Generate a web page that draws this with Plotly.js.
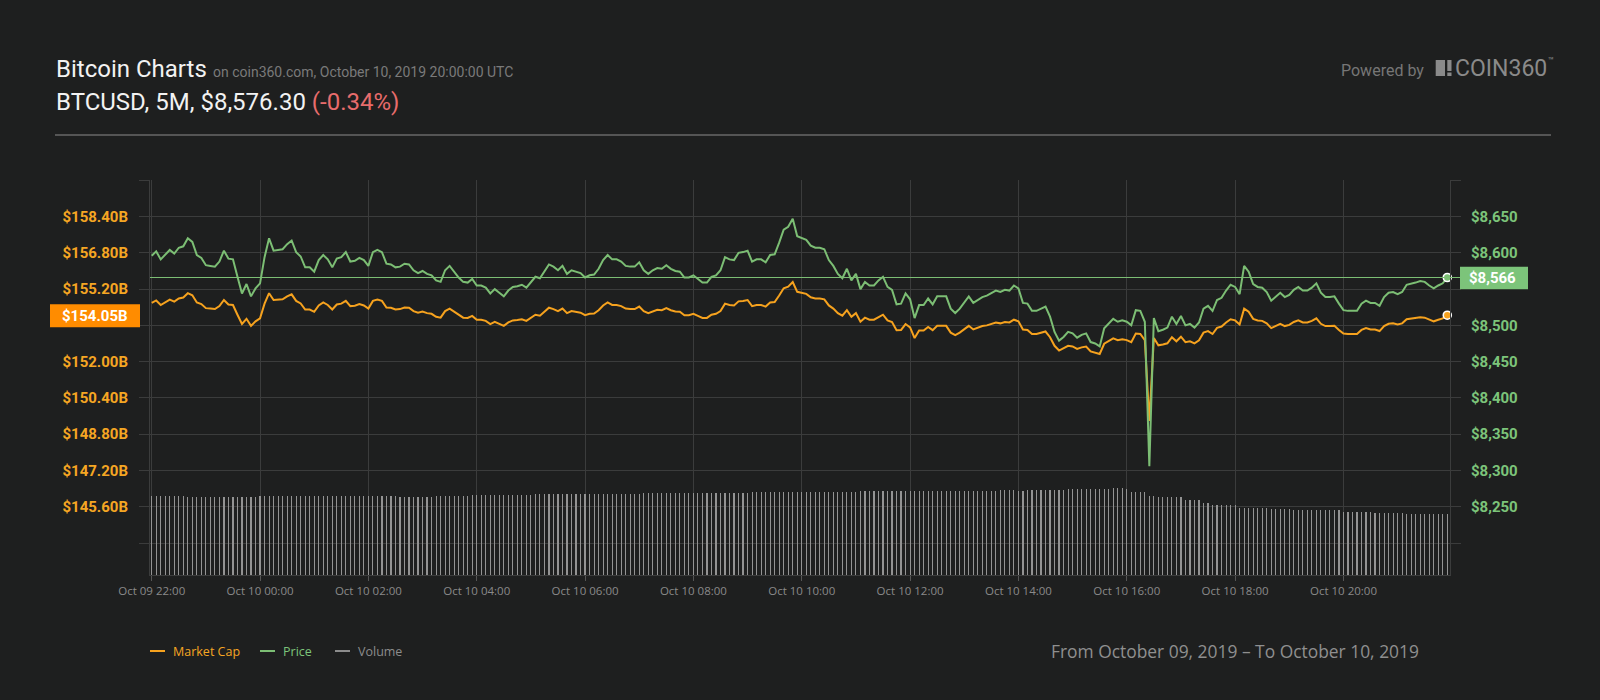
<!DOCTYPE html>
<html>
<head>
<meta charset="utf-8">
<script src="https://cdn.plot.ly/plotly-3.0.1.min.js"></script>
<style>
  html, body { margin:0; padding:0; background:#1e1f1f; }
  #chart { width:1600px; height:700px; }
</style>
</head>
<body>
<div id="chart"></div>
<script>
// ---------------- data ----------------
const START = '2019-10-09 22:00:00';   // first 5-minute sample (UTC)
const STEP_MINUTES = 5;

// BTC price (USD), 5-minute samples
const price = [
8596,8602,8591,8597,8604,8599,8607,8609,8620,8615,
8597,8593,8583,8582,8581,8588,8603,8592,8591,8567,
8544,8557,8540,8551,8558,8594,8620,8603,8604,8605,
8612,8617,8601,8595,8580,8580,8574,8590,8597,8591,
8580,8592,8594,8601,8588,8589,8593,8590,8582,8601,
8604,8601,8585,8584,8580,8581,8585,8584,8576,8572,
8575,8571,8569,8562,8560,8576,8582,8574,8566,8560,
8559,8564,8555,8555,8552,8544,8550,8545,8540,8548,
8553,8554,8556,8552,8560,8567,8565,8574,8584,8581,
8576,8582,8571,8576,8574,8572,8566,8569,8570,8578,
8590,8597,8591,8591,8588,8582,8581,8581,8587,8576,
8571,8576,8579,8578,8583,8578,8575,8574,8566,8566,
8569,8564,8559,8559,8567,8569,8576,8594,8591,8590,
8600,8601,8603,8588,8591,8591,8587,8597,8598,8614,
8632,8636,8647,8623,8621,8618,8610,8607,8607,8605,
8590,8582,8571,8565,8578,8562,8571,8550,8560,8555,
8555,8562,8567,8553,8549,8529,8530,8544,8536,8510,
8528,8528,8537,8529,8540,8540,8540,8523,8517,8523,
8532,8540,8531,8535,8539,8541,8544,8548,8546,8549,
8548,8555,8551,8531,8530,8520,8520,8523,8526,8512,
8491,8479,8484,8491,8489,8483,8487,8489,8477,8475,
8471,8496,8503,8509,8505,8507,8505,8500,8521,8520,
8505,8306,8510,8492,8494,8497,8512,8502,8513,8500,
8502,8497,8504,8523,8527,8520,8535,8538,8548,8556,
8553,8543,8582,8574,8557,8553,8552,8546,8534,8539,
8545,8539,8542,8549,8553,8548,8548,8552,8558,8545,
8539,8539,8540,8530,8521,8520,8520,8520,8530,8534,
8531,8531,8527,8539,8545,8546,8543,8546,8556,8557,
8559,8561,8560,8555,8551,8555,8558,8566
];

// Market cap (billion USD)
const marketCap = [
154.59,154.70,154.50,154.61,154.74,154.65,154.79,154.83,155.02,154.93,
154.61,154.54,154.36,154.34,154.32,154.45,154.72,154.52,154.50,154.07,
153.66,153.89,153.58,153.78,153.91,154.56,155.02,154.72,154.74,154.75,
154.88,154.97,154.68,154.57,154.30,154.30,154.20,154.48,154.61,154.50,
154.30,154.52,154.56,154.68,154.45,154.47,154.54,154.48,154.34,154.68,
154.74,154.68,154.39,154.38,154.30,154.32,154.39,154.38,154.23,154.16,
154.21,154.14,154.11,153.98,153.94,154.23,154.34,154.20,154.05,153.94,
153.93,154.02,153.85,153.85,153.80,153.66,153.76,153.67,153.58,153.73,
153.82,153.84,153.87,153.80,153.94,154.07,154.03,154.20,154.38,154.32,
154.23,154.34,154.14,154.23,154.20,154.16,154.05,154.11,154.12,154.27,
154.48,154.61,154.50,154.50,154.45,154.34,154.32,154.32,154.43,154.23,
154.14,154.23,154.29,154.27,154.36,154.27,154.21,154.20,154.05,154.05,
154.11,154.02,153.93,153.93,154.07,154.11,154.23,154.56,154.50,154.48,
154.66,154.68,154.72,154.45,154.50,154.50,154.43,154.61,154.63,154.92,
155.24,155.31,155.51,155.08,155.04,154.99,154.84,154.79,154.79,154.75,
154.48,154.34,154.14,154.03,154.27,153.98,154.14,153.76,153.94,153.85,
153.85,153.98,154.07,153.82,153.75,153.39,153.40,153.66,153.51,153.04,
153.37,153.37,153.53,153.39,153.58,153.58,153.58,153.28,153.17,153.28,
153.44,153.58,153.42,153.49,153.57,153.60,153.66,153.73,153.69,153.75,
153.73,153.85,153.78,153.42,153.40,153.22,153.22,153.28,153.33,153.08,
152.70,152.49,152.58,152.70,152.67,152.56,152.63,152.67,152.45,152.41,
152.34,152.79,152.92,153.03,152.95,152.99,152.95,152.86,153.24,153.22,
152.95,149.38,153.04,152.72,152.76,152.81,153.08,152.90,153.10,152.86,
152.90,152.81,152.94,153.28,153.35,153.22,153.49,153.55,153.73,153.87,
153.82,153.64,154.34,154.20,153.89,153.82,153.80,153.69,153.48,153.57,
153.67,153.57,153.62,153.75,153.82,153.73,153.73,153.80,153.91,153.67,
153.57,153.57,153.58,153.40,153.24,153.22,153.22,153.22,153.40,153.48,
153.42,153.42,153.35,153.57,153.67,153.69,153.64,153.69,153.87,153.89,
153.93,153.96,153.94,153.85,153.78,153.85,153.91,154.05
];

// 24h volume (billion USD)
const volume = [
17.6,17.6,17.6,17.6,17.6,17.6,17.6,17.6,17.3,17.3,
17.3,17.3,17.3,17.3,17.3,17.3,17.3,17.3,17.3,17.3,
17.3,17.3,17.3,17.3,17.6,17.6,17.6,17.6,17.6,17.6,
17.6,17.6,17.6,17.6,17.6,17.6,17.6,17.6,17.6,17.6,
17.6,17.6,17.6,17.6,17.6,17.6,17.6,17.6,17.6,17.6,
17.6,17.6,17.6,17.6,17.6,17.3,17.3,17.3,17.3,17.3,
17.3,17.3,17.3,17.6,17.6,17.6,17.6,17.6,17.6,17.6,
17.6,17.8,17.8,17.8,17.8,17.8,17.9,17.9,17.9,17.9,
17.9,17.9,17.9,17.9,17.9,18.0,18.0,18.0,18.0,18.0,
18.0,18.0,18.0,18.0,18.0,18.0,18.0,18.0,18.0,18.0,
18.0,18.0,18.0,18.0,18.0,18.0,18.0,18.0,18.0,18.2,
18.2,18.2,18.2,18.2,18.2,18.2,18.2,18.2,18.2,18.2,
18.2,18.2,18.2,18.2,18.2,18.2,18.2,18.2,18.2,18.2,
18.2,18.2,18.2,18.5,18.5,18.5,18.5,18.5,18.5,18.5,
18.5,18.5,18.5,18.5,18.5,18.5,18.5,18.5,18.5,18.5,
18.5,18.5,18.5,18.5,18.5,18.5,18.5,18.7,18.7,18.7,
18.7,18.7,18.7,18.7,18.7,18.7,18.7,18.7,18.7,18.7,
18.7,18.7,18.7,18.7,18.7,18.7,18.7,18.7,18.7,18.7,
18.7,18.7,18.7,18.7,18.7,18.7,18.7,18.7,18.9,18.9,
18.9,18.9,18.7,18.7,18.9,18.9,18.9,18.9,18.9,18.9,
18.9,18.9,18.9,19.2,19.2,19.2,19.2,19.2,19.2,19.2,
19.2,19.2,19.2,19.4,19.4,19.4,19.2,18.6,18.6,18.6,
18.6,17.7,17.7,17.4,17.4,17.4,17.4,17.4,17.4,16.6,
16.6,16.6,16.6,16.0,16.0,15.6,15.6,15.6,15.6,15.6,
15.6,15.0,15.0,15.0,15.0,15.0,15.0,15.0,14.7,14.7,
14.7,14.7,14.7,14.4,14.4,14.4,14.4,14.4,14.4,14.4,
14.4,14.4,14.4,14.4,14.0,14.0,14.0,14.0,14.0,14.0,
14.0,13.9,13.9,13.9,13.9,13.9,13.9,13.9,13.7,13.7,
13.7,13.7,13.7,13.7,13.7,13.7,13.7,13.7
];

// axis ticks
const capTickVals  = [144, 145.6, 147.2, 148.8, 150.4, 152.0, 153.6, 155.2, 156.8, 158.4, 160];
const capTickText  = ['', '$145.60B', '$147.20B', '$148.80B', '$150.40B', '$152.00B', '', '$155.20B', '$156.80B', '$158.40B', ''];
const priceTickVals = [8200, 8250, 8300, 8350, 8400, 8450, 8500, 8550, 8600, 8650, 8700];
const priceTickText = ['', '$8,250', '$8,300', '$8,350', '$8,400', '$8,450', '$8,500', '', '$8,600', '$8,650', ''];

const legendLabels = ['Market Cap', 'Price', 'Volume'];
const titleText = 'Bitcoin Charts';
const subText = 'on coin360.com, October 10, 2019 20:00:00 UTC';
const pairText = 'BTCUSD, 5M, $8,576.30';
const changeText = '(-0.34%)';
const rangeText = 'From October 09, 2019 \u2013 To October 10, 2019';

// ---------------- build ----------------
function fmt(ms) {
  const d = new Date(ms);
  const p = n => String(n).padStart(2, '0');
  return d.getUTCFullYear() + '-' + p(d.getUTCMonth() + 1) + '-' + p(d.getUTCDate()) + ' ' +
         p(d.getUTCHours()) + ':' + p(d.getUTCMinutes()) + ':' + p(d.getUTCSeconds());
}
const startMs = Date.parse(START.replace(' ', 'T') + 'Z');
const times = price.map((_, i) => fmt(startMs + i * STEP_MINUTES * 60000));
const N = price.length;

const BG = '#1e1f1f';
const GRID = '#3b3c3c';
const ORANGE = '#f6a21e';
const ORANGE_TXT = '#f5a623';
const GREEN = '#7cbe74';
const GREEN_TXT = '#7cc47a';

// plot area in pixels: x 150..1450, y 180..575
const L = 150, R = 1450, T = 180, B = 575;
const px = x => (x - L) / (R - L);
const py = y => (B - y) / (B - T);

const traces = [
  { type: 'bar', x: times, y: volume, yaxis: 'y3', width: 76000,
    marker: { color: '#939393', line: { width: 0 } }, hoverinfo: 'skip' },
  { type: 'scatter', mode: 'lines', x: times, y: price, yaxis: 'y2',
    line: { color: GREEN, width: 2 } },
  { type: 'scatter', mode: 'lines', x: times, y: marketCap, yaxis: 'y',
    line: { color: ORANGE, width: 2 } },
  { type: 'scatter', mode: 'markers', x: [times[N - 1]], y: [price[N - 1]], yaxis: 'y2',
    marker: { size: 8, color: GREEN, line: { color: '#ffffff', width: 1.6 } }, cliponaxis: false },
  { type: 'scatter', mode: 'markers', x: [times[N - 1]], y: [marketCap[N - 1]], yaxis: 'y',
    marker: { size: 8, color: ORANGE, line: { color: '#ffffff', width: 1.6 } }, cliponaxis: false }
];

const lastCap = marketCap[N - 1];
const lastPrice = price[N - 1];

function ann(text, x, y, font, xanchor) {
  return { text: text, xref: 'paper', yref: 'paper', x: px(x), y: py(y),
           xanchor: xanchor || 'left', yanchor: 'middle', showarrow: false,
           borderpad: 0, font: font };
}

const annotations = [
  ann(titleText, 55, 69, { family: 'Roboto', size: 24, color: '#f2f2f2' }),
  ann(subText, 212, 72, { family: 'Roboto', size: 14, color: '#7a7a7a' }),
  ann(pairText + ' <span style="color:#e86c6c">' + changeText + '</span>', 55, 102,
      { family: 'Roboto', size: 24, color: '#f2f2f2' }),
  ann('Powered by', 1340, 70, { family: 'Roboto', size: 16, color: '#767676' }),
  ann('COIN360', 1454, 68, { family: 'Roboto', size: 23, color: '#8a8a8a' }),
  ann('\u2122', 1547, 61, { family: 'Roboto', size: 10, color: '#8a8a8a' }),
  ann('$' + lastCap.toFixed(2) + 'B', 129, 315.5,
      { family: 'Roboto', size: 15, color: '#ffffff', weight: 'bold' }, 'right'),
  ann('$' + lastPrice.toLocaleString('en-US'), 1468, 278,
      { family: 'Roboto', size: 15, color: '#ffffff', weight: 'bold' }),
  ann(legendLabels[0], 172, 651, { family: 'Open Sans', size: 12.5, color: ORANGE_TXT }),
  ann(legendLabels[1], 282, 651, { family: 'Open Sans', size: 12.5, color: GREEN_TXT }),
  ann(legendLabels[2], 357, 651, { family: 'Open Sans', size: 12.5, color: '#8c8c8c' }),
  ann(rangeText, 1420, 651, { family: 'Open Sans', size: 17.4, color: '#8f8f8f' }, 'right')
];

function rect(x0, x1, y0, y1, color) {
  return { type: 'rect', xref: 'paper', yref: 'paper', x0: px(x0), x1: px(x1), y0: py(y1), y1: py(y0),
           fillcolor: color, line: { width: 0 }, layer: 'above' };
}
function hline(x0, x1, y, color, w) {
  return { type: 'line', xref: 'paper', yref: 'paper', x0: px(x0), x1: px(x1), y0: py(y), y1: py(y),
           line: { color: color, width: w }, layer: 'above' };
}

const shapes = [
  hline(55, 1551, 135, '#555555', 2),
  { type: 'line', xref: 'paper', yref: 'y2', x0: 0, x1: px(1460), y0: lastPrice, y1: lastPrice,
    line: { color: GREEN, width: 1.2 }, layer: 'above' },
  rect(50, 140, 304.3, 327.3, '#ff8c00'),
  rect(1460, 1528, 266.7, 289.3, GREEN_TXT),
  rect(1435.7, 1445, 60, 76, '#8a8a8a'),
  rect(1447.3, 1451.5, 60, 71, '#8a8a8a'),
  rect(1447.3, 1451.5, 72.5, 76, '#8a8a8a'),
  hline(150, 165, 651, ORANGE, 2),
  hline(260, 275, 651, GREEN, 2),
  hline(335, 350, 651, '#8c8c8c', 2)
];

const layout = {
  width: 1600, height: 700,
  paper_bgcolor: BG, plot_bgcolor: BG,
  margin: { l: L, r: 1600 - R, t: T, b: 700 - B, pad: 0 },
  showlegend: false,
  bargap: 0,
  xaxis: {
    type: 'date',
    range: ['2019-10-09 21:58:07', '2019-10-10 21:58:01'],
    tick0: '2019-10-09 22:00:00', dtick: 7200000, tickformat: '%b %d %H:%M',
    showgrid: true, gridcolor: GRID, gridwidth: 1,
    ticks: 'outside', ticklen: 5, tickcolor: '#555555',
    tickfont: { family: 'Open Sans', size: 11.5, color: '#8a8a8a' },
    showline: true, linecolor: GRID, zeroline: false
  },
  yaxis: {
    range: [142.59, 160.013],
    tickmode: 'array', tickvals: capTickVals, ticktext: capTickText,
    showgrid: true, gridcolor: GRID, gridwidth: 1,
    ticks: 'outside', ticklen: 10, tickcolor: GRID,
    tickfont: { family: 'Roboto', size: 15, color: ORANGE_TXT, weight: 'bold' },
    ticklabelstandoff: 8,
    showline: true, linecolor: GRID, zeroline: false
  },
  yaxis2: {
    overlaying: 'y', side: 'right',
    range: [8155.9, 8700.41],
    tickmode: 'array', tickvals: priceTickVals, ticktext: priceTickText,
    showgrid: false,
    ticks: 'outside', ticklen: 10, tickcolor: GRID,
    tickfont: { family: 'Roboto', size: 15, color: GREEN_TXT, weight: 'bold' },
    ticklabelstandoff: 7,
    showline: true, linecolor: GRID, zeroline: false
  },
  yaxis3: { overlaying: 'y', range: [0, 88], visible: false, fixedrange: true },
  shapes: shapes,
  annotations: annotations
};

Plotly.newPlot('chart', traces, layout, { staticPlot: true, displayModeBar: false });
</script>
</body>
</html>
